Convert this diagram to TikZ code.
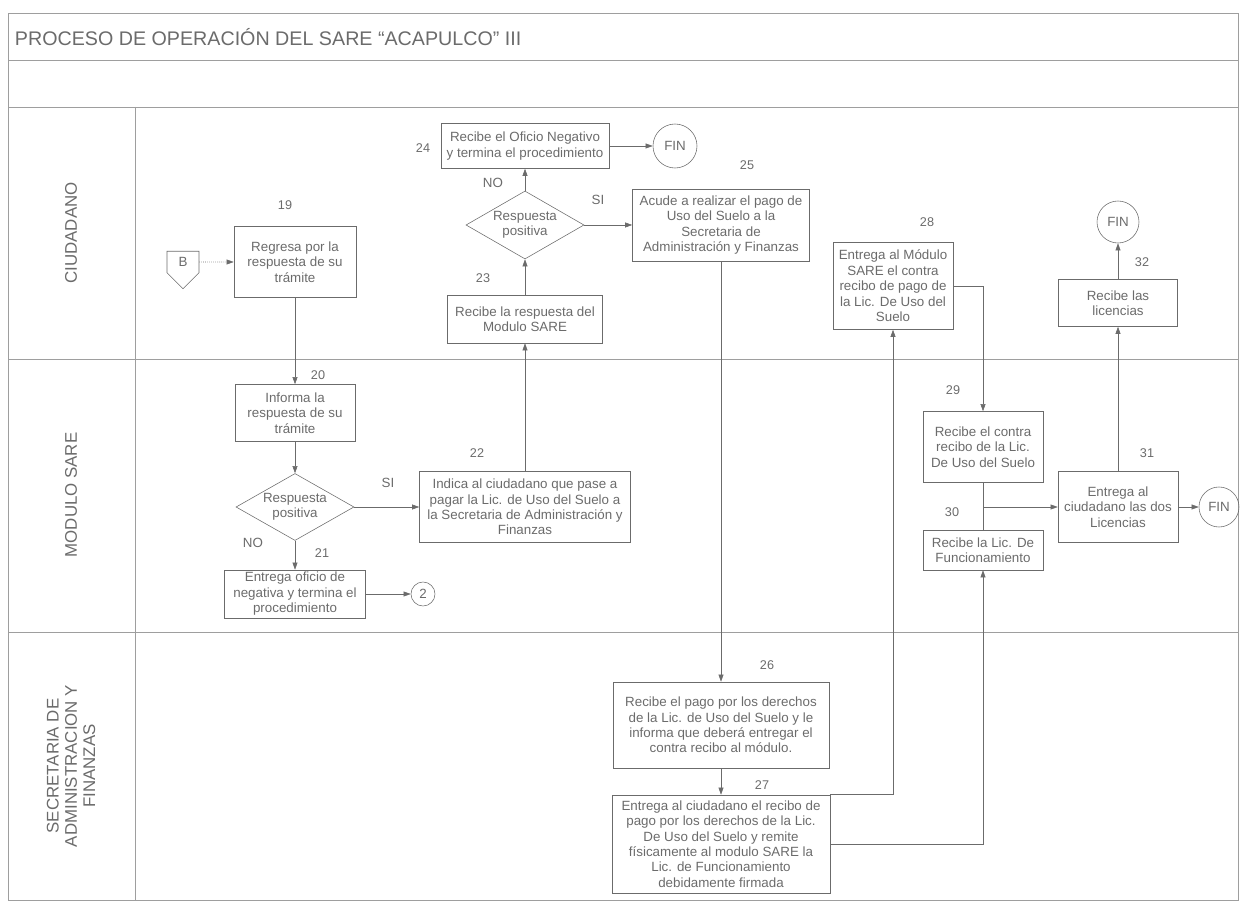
\documentclass[tikz,border=0pt]{standalone}
\usepackage{fontspec}
\setmainfont{Liberation Sans}
\usepackage{xcolor}
\usetikzlibrary{positioning}
\usetikzlibrary{arrows.meta,shapes.geometric,shapes.symbols}
\definecolor{ink}{gray}{0.42}
\definecolor{rule}{gray}{0.62}

\begin{document}
\begin{tikzpicture}[x=0.25mm, y=-0.25mm,
        every node/.style = {text=ink, font=\fontsize{9.5}{11}\selectfont},
        box/.style = {draw=ink, rectangle, align=center, inner sep=1pt},
        decision/.style = {draw=ink, diamond, aspect=1.75, inner sep=0pt, align=center},
        fin/.style = {draw=ink, circle, inner sep=0pt},
        num/.style = {font=\fontsize{9}{10}\selectfont},
        lane/.style = {rotate=90, align=center, font=\fontsize{12}{13}\selectfont},
        flow/.style = {draw=ink, -{Triangle[length=5pt,width=3.5pt]}}
        ]
        \useasboundingbox (0,0) rectangle (1241,905);
        \draw[rule] (8,13) rectangle (1238,900);
        \draw[rule] (8,60) -- (1238,60);
        \draw[rule] (8,107) -- (1238,107);
        \draw[rule] (8,359) -- (1238,359);
        \draw[rule] (8,632) -- (1238,632);
        \draw[rule] (135,107) -- (135,900);
        \node[anchor=west, font=\fontsize{14}{16}\selectfont] (title) at (10,37) {PROCESO DE OPERACIÓN DEL SARE “ACAPULCO” III};
        \node[lane] (ciud) at (71,233) {CIUDADANO};
        \node[lane] (modu) at (71,495) {MODULO SARE};
        \node[lane] (secr) at (71,766) {SECRETARIA DE\\ADMINISTRACION Y\\FINANZAS};

        \node[draw=ink, signal, signal to=south, minimum width=8mm, minimum height=6.5mm, inner sep=0pt] (conB) at (183,262) {B};
        \node[box, minimum width=30.5mm, minimum height=17.75mm] (b19) at (295,262) {Regresa por la\\respuesta de su\\trámite};
        \node[box, minimum width=30mm, minimum height=14.25mm] (b20) at (295,413) {Informa la\\respuesta de su\\trámite};
        \node[decision, minimum width=29.5mm, minimum height=16.75mm] (d20) at (295,507) {Respuesta\\positiva};
        \node[box, minimum width=35.25mm, minimum height=12mm] (b21) at (295,594) {Entrega oficio de\\negativa y termina el\\procedimiento};
        \node[fin, minimum size=6mm] (c2) at (423,594) {2};
        \node[box, minimum width=52.75mm, minimum height=17.75mm] (b22) at (525,507) {Indica al ciudadano que pase a\\pagar la Lic. de Uso del Suelo a\\la Secretaria de Administración y\\Finanzas};
        \node[box, minimum width=38.75mm, minimum height=12mm] (b23) at (525,319) {Recibe la respuesta del\\Modulo SARE};
        \node[decision, minimum width=29.5mm, minimum height=17mm] (d23) at (525,225) {Respuesta\\positiva};
        \node[box, minimum width=42mm, minimum height=11.25mm] (b24) at (525,146) {Recibe el Oficio Negativo\\y termina el procedimiento};
        \node[fin, minimum size=11mm] (fin1) at (675,146) {FIN};
        \node[box, minimum width=44.25mm, minimum height=18mm] (b25) at (721,225) {Acude a realizar el pago de\\Uso del Suelo a la\\Secretaria de\\Administración y Finanzas};
        \node[box, minimum width=54mm, minimum height=21.5mm] (b26) at (721,725) {Recibe el pago por los derechos\\de la Lic. de Uso del Suelo y le\\informa que deberá entregar el\\contra recibo al módulo.};
        \node[box, minimum width=54.5mm, minimum height=24.5mm] (b27) at (721,844) {Entrega al ciudadano el recibo de\\pago por los derechos de la Lic.\\De Uso del Suelo y remite\\físicamente al modulo SARE la\\Lic. de Funcionamiento\\debidamente firmada};
        \node[box, minimum width=30mm, minimum height=21.75mm] (b28) at (893,286) {Entrega al Módulo\\SARE el contra\\recibo de pago de\\la Lic. De Uso del\\Suelo};
        \node[box, minimum width=30mm, minimum height=17.75mm] (b29) at (983,447) {Recibe el contra\\recibo de la Lic.\\De Uso del Suelo};
        \node[box, minimum width=30mm, minimum height=10mm] (b30) at (983,550) {Recibe la Lic. De\\Funcionamiento};
        \node[box, minimum width=30mm, minimum height=17.75mm] (b31) at (1118,507) {Entrega al\\ciudadano las dos\\Licencias};
        \node[fin, minimum size=10mm] (fin3) at (1219,507) {FIN};
        \node[box, minimum width=29.75mm, minimum height=11.75mm] (b32) at (1118,303) {Recibe las\\licencias};
        \node[fin, minimum size=10.5mm] (fin2) at (1118,222) {FIN};

        \node[num] (n19) at (285,205) {19};
        \node[num] (n20) at (318,375) {20};
        \node[num] (n21) at (322,553) {21};
        \node[num] (n22) at (477,453) {22};
        \node[num] (n23) at (483,278) {23};
        \node[num] (n24) at (423,148) {24};
        \node[num] (n25) at (747,165) {25};
        \node[num] (n26) at (767,665) {26};
        \node[num] (n27) at (762,785) {27};
        \node[num] (n28) at (927,222) {28};
        \node[num] (n29) at (953,390) {29};
        \node[num] (n30) at (952,512) {30};
        \node[num] (n31) at (1147,453) {31};
        \node[num] (n32) at (1142,262) {32};
        \node (no23) at (493,183) {NO};
        \node (si23) at (598,200) {SI};
        \node (si20) at (388,483) {SI};
        \node (no20) at (253,543) {NO};

        \draw[flow, densely dotted] (conB) -- (b19);
        \draw[flow] (b19) -- (b20);
        \draw[flow] (b20) -- (d20);
        \draw[flow] (d20) -- (b22);
        \draw[flow] (d20) -- (b21);
        \draw[flow] (b21) -- (c2);
        \draw[flow] (b22) -- (b23);
        \draw[flow] (b23) -- (d23);
        \draw[flow] (d23) -- (b24);
        \draw[flow] (d23) -- (b25);
        \draw[flow] (b24) -- (fin1);
        \draw[flow] (b25) -- (b26);
        \draw[flow] (b26) -- (b27);
        \draw[flow] (b27.north east) -| (b28);
        \draw[flow] (b27.east) -| (b30);
        \draw[flow] (b28.east) -| (b29);
        \draw[draw=ink] (b29) -- (b30);
        \coordinate (j31) at (b29.south |- b31.west);
        \draw[flow] (j31) -- (b31);
        \draw[flow] (b31) -- (fin3);
        \draw[flow] (b31) -- (b32);
        \draw[flow] (b32) -- (fin2);
\end{tikzpicture}
\end{document}
